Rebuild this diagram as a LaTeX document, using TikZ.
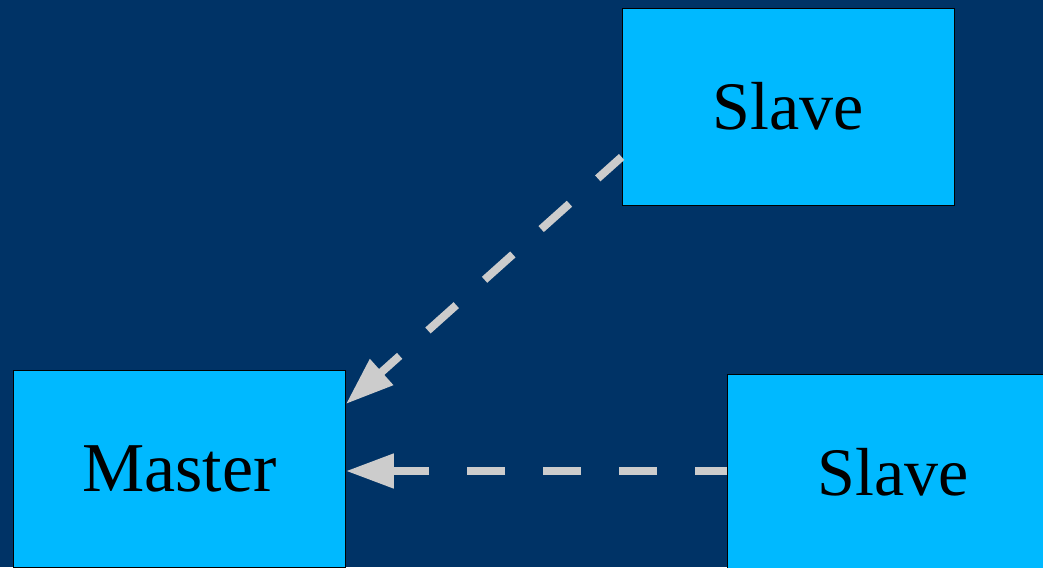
\documentclass[tikz,border=0pt]{standalone}
\usepackage{fontspec}
\setmainfont{Liberation Serif}
\usetikzlibrary{arrows.meta}
\definecolor{bgblue}{RGB}{0,51,102}
\definecolor{boxblue}{RGB}{0,185,255}
\definecolor{arrowgray}{RGB}{204,204,204}
\begin{document}
\begin{tikzpicture}[x=1pt,y=-1pt,
  box/.style={draw=black,line width=0.8pt,fill=boxblue,minimum width=332pt,minimum height=197pt,inner sep=0pt,
    font=\fontsize{68}{80}\selectfont,text=black},
  link/.style={draw=arrowgray,line width=8pt,dash pattern=on 38pt off 38pt,dash phase=6pt,
    -{Triangle[length=48pt,width=33pt]},line cap=butt}]
\fill[bgblue] (0,0) rectangle (1043,567);
\useasboundingbox (0,0) rectangle (1043,567);
\node[box] (s1) at (788,106.5) {Slave};
\node[box] (m) at (179.5,468.5) {\fontsize{70}{80}\selectfont Master};
\node[box] (s2) at (893.5,472.5) {Slave};
\draw[link] ([yshift=-50.5pt]s1.west) -- ([yshift=64.5pt]m.east);
\draw[link] ([yshift=1.5pt]s2.west) -- ([yshift=1.5pt]m.east |- s2.west);
\end{tikzpicture}
\end{document}
